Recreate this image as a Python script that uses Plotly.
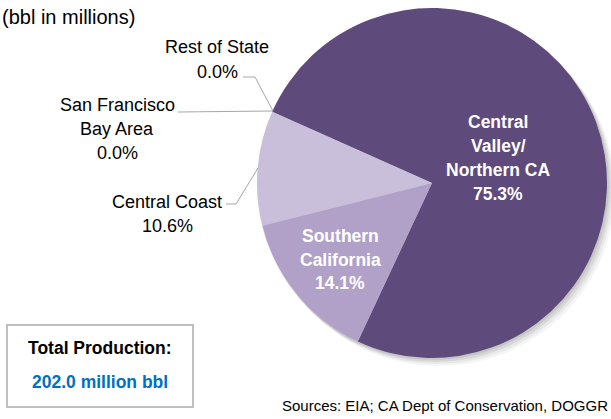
import plotly.graph_objects as go

W, H = 611, 419

regions = ["Central<br>Valley/<br>Northern CA", "Southern<br>California", "Central Coast",
           "San Francisco<br>Bay Area", "Rest of State"]
shares = [75.3, 14.1, 10.6, 0.0, 0.0]
colors = ["#5E4A7B", "#B1A1C9", "#C9BFDB", "#DCD5E8", "#8E7FB0"]
total_label = "Total Production:"
total_value = "202.0 million bbl"
subtitle = "(bbl in millions)"
source = "Sources: EIA; CA Dept of Conservation, DOGGR"

FONT = "Liberation Sans, Arial, sans-serif"

def px(x, y):
    return x / W, 1 - y / H

cx, cy, r = 432, 183, 175

fig = go.Figure()
fig.add_trace(go.Pie(
    labels=[l.replace("<br>", " ") for l in regions], values=shares,
    sort=False, direction="clockwise", rotation=294,
    marker=dict(colors=colors, line=dict(width=0)),
    textinfo="none", hoverinfo="label+percent", showlegend=False,
    domain=dict(x=[(cx - r) / W, (cx + r) / W], y=[(H - cy - r) / H, (H - cy + r) / H]),
))

shapes = []
# soft shadow
for d, a in [(9, 0.04), (7, 0.05), (5, 0.07), (3, 0.08)]:
    x0, y0 = px(cx - r + d - 3, cy - r + d - 1)
    x1, y1 = px(cx + r + d - 1, cy + r + d - 1)
    shapes.append(dict(type="circle", xref="paper", yref="paper", x0=x0, y0=y1, x1=x1, y1=y0,
                       fillcolor=f"rgba(0,0,0,{a})", line=dict(width=0), layer="below"))

def path(points):
    s = ""
    for i, (x, y) in enumerate(points):
        fx, fy = px(x, y)
        s += ("M" if i == 0 else "L") + f"{fx},{fy} "
    return s

for pts in [[(273, 111), (255, 77), (243, 77)],
            [(273, 111), (178, 112)],
            [(258, 168), (236, 204), (226, 204)]]:
    shapes.append(dict(type="path", xref="paper", yref="paper", path=path(pts),
                       line=dict(color="#A6A6A6", width=1)))

# total production box
bx0, by0 = px(7, 325)
bx1, by1 = px(193, 407)
shapes.append(dict(type="rect", xref="paper", yref="paper", x0=bx0, y0=by1, x1=bx1, y1=by0,
                   line=dict(color="#BFBFBF", width=2), fillcolor="white"))

annotations = []

def label(lines, x, y0, dy, size, color, bold=False, anchor="center"):
    for i, line in enumerate(lines):
        t = f"<b>{line}</b>" if bold else line
        fx, fy = px(x, y0 + i * dy)
        annotations.append(dict(text=t, x=fx, y=fy, xref="paper", yref="paper",
                                xanchor=anchor, yanchor="middle", showarrow=False,
                                font=dict(family=FONT, size=size, color=color)))

def lines_for(i):
    return regions[i].split("<br>") + [f"{shares[i]:.1f}%"]

# inside labels
label(lines_for(0), 498, 122, 24, 17.5, "white", bold=True)
label(lines_for(1), 340, 236, 23.5, 17.5, "white", bold=True)
# outside labels
label(lines_for(2), 167, 202, 23.5, 18, "black")
label(lines_for(3), 117, 105, 24, 18, "black")
label(lines_for(4), 217, 47, 25, 18, "black")

# subtitle
fx, fy = px(0, 17)
annotations.append(dict(text=subtitle, x=fx, y=fy, xref="paper", yref="paper", xanchor="left",
                        yanchor="middle", showarrow=False, font=dict(family=FONT, size=20, color="black")))

label([total_label], 100, 348, 0, 17.5, "black", bold=True)
label([total_value], 100, 382, 0, 17.5, "#0070C0", bold=True)

fx, fy = px(610, 405)
annotations.append(dict(text=source, x=fx, y=fy, xref="paper", yref="paper", xanchor="right",
                        yanchor="middle", showarrow=False, font=dict(family=FONT, size=15, color="black")))

fig.update_layout(width=W, height=H, margin=dict(l=0, r=0, t=0, b=0),
                  paper_bgcolor="white", plot_bgcolor="white",
                  shapes=shapes, annotations=annotations)

fig.write_html("out.html", config={"displayModeBar": False},
               post_script="document.body.style.margin='0';")
